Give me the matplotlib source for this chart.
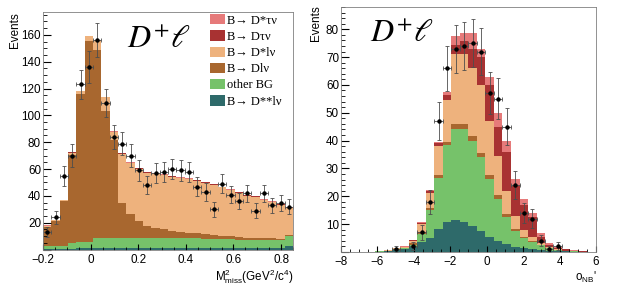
import numpy as np
import matplotlib
matplotlib.use("Agg")
import matplotlib.pyplot as plt
from matplotlib.patches import Patch
from matplotlib.ticker import MultipleLocator, FuncFormatter

plt.rcParams['font.family'] = ['Liberation Sans', 'DejaVu Sans']
plt.rcParams['mathtext.fontset'] = 'custom'
plt.rcParams['mathtext.rm'] = 'Liberation Sans'
plt.rcParams['mathtext.it'] = 'Liberation Sans:italic'

# ---- left panel: M2miss, 30 bins from -0.2 to 0.85 ----
mm_edges = np.linspace(-0.2, 0.85, 31)
mm_dsslnu = [0.6, 0.6, 0.6, 0.8, 1, 1, 1, 1, 1, 1, 1, 1, 1, 1, 1, 1, 1, 1, 1, 1,
             1, 1, 1, 1, 1, 1, 1, 1, 1.2, 2.5]
mm_other = [2.4, 2.4, 1.9, 4.2, 5, 5, 8, 8, 8, 8, 8, 8, 8, 8, 8, 8, 7.5, 7.5, 7.5, 7,
            7, 7, 7, 6.5, 6.5, 6, 6, 6, 5.8, 7.5]
mm_dlnu = [14, 18, 34, 65.5, 110, 149.6, 140, 94.4, 73, 26, 17.5, 12, 8.5, 7, 6, 5,
           4.5, 4, 3.5, 3.5, 3, 2.5, 2, 2, 1.5, 1.8, 1.5, 1.3, 1.2, 0.8]
mm_dslnu = [0.8, 0.8, 0.3, 1.8, 1.8, 3.2, 6.8, 10.4, 5.8, 36.3, 37.8, 39.3, 39.8, 40.3,
            40.3, 40.3, 40.3, 39.8, 39.3, 38.4, 37.3, 35.8, 34.3, 32.8, 31.3, 30.5,
            28.3, 27, 25.1, 20]
mm_dtaunu = [0.1] * 9 + [0.3] * 21
mm_dstaunu = [0.1] * 9 + [0.4] * 21
mm_data = [13, 24, 55, 70, 123, 136, 156, 109, 84, 79, 70, 59, 48, 57, 58, 60, 59, 58,
           47, 43, 30, 49, 41, 36, 42, 29, 42, 33, 35, 32]

# ---- right panel: o_NB', 30 bins from -8 to 6 ----
nb_edges = np.linspace(-8, 6, 31)
nb_dsslnu = [0, 0, 0, 0, 0.1, 0.2, 0.6, 0.9, 1.7, 3.5, 4.9, 8.2, 10.9, 11.4, 10.9, 9.4,
             7.4, 5.5, 3.8, 2.8, 1.9, 1.4, 1.0, 0.8, 0.5, 0.3, 0.2, 0.1, 0, 0]
nb_other = [0, 0, 0, 0, 0.1, 0.2, 0.3, 0.4, 0.9, 3.0, 10.1, 18.2, 27.6, 32.6, 33.1, 30.6,
            26.6, 20.7, 15.2, 9.7, 5.7, 3.5, 2.5, 1.6, 0.8, 0.4, 0.2, 0.1, 0.1, 0]
nb_dlnu = [0, 0, 0, 0, 0, 0.1, 0.1, 0.1, 0.6, 0.8, 0.7, 1.2, 1.0, 2.0, 2.0, 1.6,
           1.5, 1.3, 1.5, 1.0, 0.6, 0.4, 0.3, 0.2, 0.1, 0.1, 0, 0, 0, 0]
nb_dslnu = [0, 0, 0, 0, 0.1, 0.2, 0.4, 0.4, 0.7, 2.7, 5.3, 10.4, 15.1, 25.0, 25.0, 24.4,
            24.5, 19.5, 14.0, 8.5, 4.8, 2.6, 1.6, 0.7, 0.2, 0.1, 0.1, 0.1, 0, 0]
nb_dtaunu = [0, 0, 0, 0, 0, 0.1, 0.05, 0.1, 0.3, 0.3, 1.0, 1.0, 1.7, 3.5, 4.8, 7.0,
             10.0, 13.0, 10.5, 14.0, 10.8, 8.9, 7.3, 2.2, 0.9, 0.6, 0.4, 0.2, 0.1, 0]
nb_dstaunu = [0, 0, 0, 0, 0, 0, 0.05, 0.1, 0.2, 0.3, 0.4, 0.4, 1.1, 3.0, 2.7, 5.5,
              3.0, 3.0, 5.0, 4.0, 2.5, 2.2, 1.1, 1.2, 0.8, 0.4, 0.3, 0.1, 0.1, 0]
nb_data = [0, 0, 0, 0, 0, 0, 1, 0, 2, 7, 18, 47, 66, 73, 74, 75, 72, 57, 55, 45, 24, 14,
           12, 4, 1, 2, 0, 0, 0, 0]

labels = ["B\u2192 D*\u03c4\u03bd", "B\u2192 D\u03c4\u03bd", "B\u2192 D*l\u03bd",
          "B\u2192 Dl\u03bd", "other BG", "B\u2192 D**l\u03bd"]
colors = ["#e67a7a", "#a83232", "#eeb27d", "#a8672f", "#76c26a", "#2e6a6a"]


def draw_panel(ax, edges, comps, data):
    # comps ordered bottom -> top, draw cumulative from top down
    cum = np.cumsum(np.array(comps), axis=0)
    cols = colors[::-1]
    for i in range(len(comps) - 1, -1, -1):
        ax.stairs(cum[i], edges, fill=True, color=cols[i], lw=0)
    centers = 0.5 * (edges[1:] + edges[:-1])
    half = 0.5 * (edges[1] - edges[0])
    data = np.array(data, dtype=float)
    m = data > 0
    ax.errorbar(centers[m], data[m], yerr=np.sqrt(data[m]), xerr=half, fmt='o',
                color='black', ecolor='0.3', ms=2.2, elinewidth=0.6, capsize=1.2,
                capthick=0.6)
    ax.tick_params(which='both', direction='in', top=False, right=False,
                   labelsize=8.4)
    ax.tick_params(axis='y', which='major', length=6, pad=1.5)
    ax.tick_params(axis='y', which='minor', length=3)
    ax.tick_params(axis='x', which='major', length=4, pad=3)
    ax.tick_params(axis='x', which='minor', length=2)
    for s in ax.spines.values():
        s.set_linewidth(0.6)
        s.set_color('0.5')
    ax.set_xlim(edges[0], edges[-1])


fig = plt.figure(figsize=(6.23, 2.88), dpi=100)
W, H = 623, 288

axL = fig.add_axes([43 / W, 1 - 249.6 / H, 250 / W, 237.6 / H])
draw_panel(axL, mm_edges,
           [mm_dsslnu, mm_other, mm_dlnu, mm_dslnu, mm_dtaunu, mm_dstaunu], mm_data)
axL.set_ylim(0, 177)
axL.yaxis.set_major_locator(MultipleLocator(20))
axL.yaxis.set_minor_locator(MultipleLocator(5))
axL.xaxis.set_major_locator(MultipleLocator(0.2))
axL.xaxis.set_minor_locator(MultipleLocator(0.05))
axL.yaxis.set_major_formatter(FuncFormatter(lambda v, p: '' if v == 0 else '%d' % v))
axL.xaxis.set_major_formatter(FuncFormatter(
    lambda v, p: '0' if abs(v) < 1e-9 else ('%.1f' % v).replace('-', '\u2212')))

axR = fig.add_axes([341 / W, 1 - 251.9 / H, 255 / W, 244.9 / H])
draw_panel(axR, nb_edges,
           [nb_dsslnu, nb_other, nb_dlnu, nb_dslnu, nb_dtaunu, nb_dstaunu], nb_data)
axR.set_ylim(0, 88)
axR.yaxis.set_major_locator(MultipleLocator(10))
axR.yaxis.set_minor_locator(MultipleLocator(2))
axR.xaxis.set_major_locator(MultipleLocator(2))
axR.xaxis.set_minor_locator(MultipleLocator(0.5))
axR.yaxis.set_major_formatter(FuncFormatter(lambda v, p: '' if v == 0 else '%d' % v))

# axis titles
fig.text(15 / W, 1 - 12 / H, "Events", rotation=90, ha='center', va='top', fontsize=8.4)
fig.text(316 / W, 1 - 5 / H, "Events", rotation=90, ha='center', va='top', fontsize=8.4)
fig.text(293 / W, 1 - 281 / H, r"M$^{2}_{\rm miss}$(GeV$^{2}$/c$^{4}$)", ha='right',
         va='baseline', fontsize=8.4)
fig.text(597 / W, 1 - 281 / H, r"o$_{\rm NB}$'", ha='right', va='baseline', fontsize=8.4)

# channel tags
tag = r"$D^{+}\ell$"
fig.text(127 / W, 1 - 48 / H, tag, fontsize=23, math_fontfamily='stix', va='baseline')
fig.text(370 / W, 1 - 42 / H, tag, fontsize=23, math_fontfamily='stix', va='baseline')

handles = [Patch(facecolor=c, edgecolor='none') for c in colors]
fig.legend(handles, labels, loc='upper left', bbox_to_anchor=(210 / W, 1 - 14 / H),
           frameon=False, prop={'family': ['Liberation Serif', 'DejaVu Serif'], 'size': 9},
           handlelength=1.2, handleheight=0.9, labelspacing=0.3, handletextpad=0.15,
           borderpad=0, borderaxespad=0)

fig.savefig("out.png", dpi=100)
